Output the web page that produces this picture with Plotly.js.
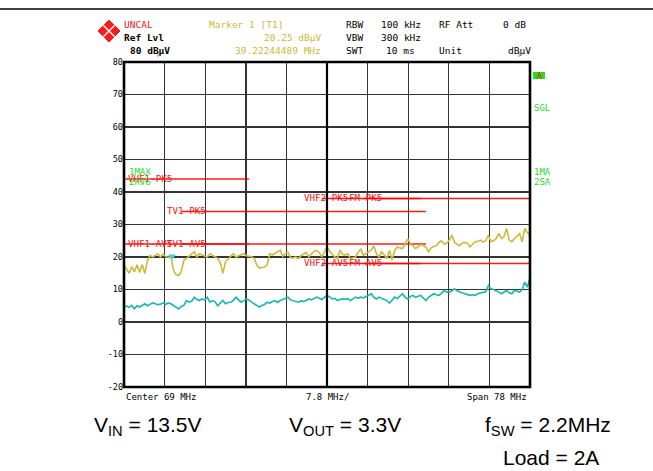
<!DOCTYPE html>
<html><head><meta charset="utf-8">
<script src="https://cdn.plot.ly/plotly-3.0.1.min.js"></script>
<style>html,body{margin:0;padding:0;background:#fff;overflow:hidden}</style>
</head><body><div id="chart" style="width:653px;height:471px"></div>
<script>
// ---- data ----
const freqMHz = [30,30.5,31,31.5,32,32.5,33,33.5,34,34.5,35,35.5,36,36.5,37,37.5,38,38.5,39,39.5,
40,40.5,41,41.5,42,42.5,43,43.5,44,44.5,45,45.5,46,46.5,47,47.5,48,48.5,49,49.5,
50,50.5,51,51.5,52,52.5,53,53.5,54,54.5,55,55.5,56,56.5,57,57.5,58,58.5,59,59.5,
60,60.5,61,61.5,62,62.5,63,63.5,64,64.5,65,65.5,66,66.5,67,67.5,68,68.5,69,69.5,
70,70.5,71,71.5,72,72.5,73,73.5,74,74.5,75,75.5,76,76.5,77,77.5,78,78.5,79,79.5,
80,80.5,81,81.5,82,82.5,83,83.5,84,84.5,85,85.5,86,86.5,87,87.5,88,88.5,89,89.5,
90,90.5,91,91.5,92,92.5,93,93.5,94,94.5,95,95.5,96,96.5,97,97.5,98,98.5,99,99.5,
100,100.5,101,101.5,102,102.5,103,103.5,104,104.5,105,105.5,106,106.5,107,107.5,108];
const maxPeak = [17.6,16.4,15.0,17.0,15.4,17.6,15.2,17.7,14.9,18.8,20.5,20.0,20.6,21.0,20.0,20.8,20.2,19.8,20.3,15.9,
14.6,14.3,15.5,19.0,19.6,20.3,20.8,21.6,20.0,21.0,20.6,20.2,20.0,21.0,20.4,20.0,19.6,18.2,15.0,18.6,
19.4,20.2,21.0,20.0,20.4,20.6,21.0,20.4,20.3,20.1,19.6,17.5,16.6,16.8,16.9,17.6,21.0,20.6,21.2,21.6,
22.1,20.2,21.0,21.4,19.8,19.7,20.0,19.5,20.4,21.0,21.4,20.0,20.8,21.8,22.0,21.4,20.0,21.8,23.1,21.8,
20.8,20.0,19.6,22.1,20.8,20.6,21.0,19.5,19.8,20.0,21.6,22.4,20.5,21.0,21.5,22.2,23.4,21.0,20.0,21.6,
20.6,19.5,22.0,19.0,22.0,23.1,22.8,22.6,24.0,25.6,24.2,23.4,22.6,23.1,23.8,23.6,23.0,21.6,22.8,23.2,
23.5,24.4,25.0,24.0,24.2,25.2,26.7,24.4,24.0,23.5,24.3,24.5,24.2,23.1,24.0,24.7,24.8,25.2,24.6,25.0,
26.7,24.7,25.0,25.7,27.2,25.7,26.2,28.8,25.2,24.7,25.7,26.4,27.2,24.7,28.8,27.5,26.7];
const average = [4.6,4.9,4.5,5.1,4.1,5.0,4.6,5.2,5.6,5.0,5.4,5.9,5.6,5.3,5.5,5.9,5.4,5.9,5.6,5.1,
4.6,4.0,4.8,5.1,6.6,6.1,6.4,7.6,6.9,6.6,7.1,6.8,7.6,6.1,6.6,6.2,5.0,5.8,6.6,5.6,
6.0,6.1,6.6,7.6,6.8,6.1,6.5,7.1,6.8,6.1,5.6,5.1,4.6,5.1,5.4,6.1,5.8,6.3,6.6,6.0,
6.6,6.9,7.3,7.6,6.8,6.6,6.4,6.1,6.5,6.3,6.6,7.1,6.8,7.2,7.65,7.3,6.9,7.6,8.2,7.7,
7.1,7.3,6.6,6.9,7.1,7.0,7.2,6.6,7.2,7.65,7.3,7.65,7.4,7.9,8.2,8.7,7.6,7.1,7.65,7.3,
7.0,6.6,5.8,6.6,7.65,7.2,8.0,8.7,7.6,7.1,7.8,8.2,7.6,7.8,8.2,7.4,6.6,7.6,8.2,8.7,
8.4,8.2,8.8,9.7,9.2,9.2,9.6,10.2,9.6,9.2,8.9,8.7,8.5,8.2,8.4,8.2,8.8,9.0,9.2,9.3,
11.2,10.2,10.0,9.7,9.2,8.7,9.3,9.7,9.0,8.7,9.7,9.4,9.2,10.0,12.3,10.7,13.8];
const limitNames = ["VHF1-PK5","TV1-PK5","VHF2-PK5","FM-PK5","VHF1-AV5","TV1-AV5","VHF2-AV5","FM-AV5"];
const limitStart = [30,41,68,76,30,41,68,76];
const limitStop  = [54,88,87,108,54,88,87,108];
const limitLevel = [44,34,38,38,24,24,18,18];
const markerFreq = 39.22244489;
const markerLevel = 20.25;
const yTickVals = [80,70,60,50,40,30,20,10,0,-10,-20];
const yTickText = ["80","70","60","50","40","30","20","10","0","-10","-20"];

// ---- layout helpers (pixel -> paper) ----
const W=653,H=471,ML=124,MR=123,MT=62,MB=84;
const PW=W-ML-MR, PH=H-MT-MB;
const px = x => (x-ML)/PW;
const py = y => (H-MB-y)/PH;
const MONO = "DejaVu Sans Mono";
const YEL = "#cdb93a", CYA = "#17b5b8", RED = "#ff1010", GRN = "#1fe01f";

const traces = [];
for (let i=0;i<limitNames.length;i++){
  traces.push({x:[limitStart[i],limitStop[i]], y:[limitLevel[i],limitLevel[i]], type:"scatter", mode:"lines",
    line:{color:"rgba(255,0,0,0.9)", width:1.3}, hoverinfo:"skip", showlegend:false, name:limitNames[i]});
}
traces.push({x:freqMHz, y:maxPeak, type:"scatter", mode:"lines", line:{color:YEL, width:1.6}, name:"1MAX", showlegend:false});
traces.push({x:freqMHz, y:average, type:"scatter", mode:"lines", line:{color:CYA, width:1.6}, name:"2AVG", showlegend:false});
traces.push({x:[markerFreq], y:[markerLevel], type:"scatter", mode:"markers",
  marker:{symbol:"triangle-down", size:7, color:"#38d4f0"}, showlegend:false, name:"M1"});

const labelX = [30.6,38.0,64.4,73.1,30.6,38.0,64.4,73.1];
const ann = [];
for (let i=0;i<limitNames.length;i++){
  ann.push({x:labelX[i], y:limitLevel[i], xref:"x", yref:"y", text:limitNames[i], showarrow:false,
    xanchor:"left", yanchor:"middle", yshift:1, font:{family:MONO, size:9.2, color:RED}, borderpad:0});
}
function t(x,y,text,color,anchor,size,fam){
  ann.push({x:px(x), y:py(y), xref:"paper", yref:"paper", text:text, showarrow:false,
    xanchor:anchor||"left", yanchor:"middle", borderpad:0,
    font:{family:fam||MONO, size:size||9.5, color:color||"#000"}});
}
t(123,24,"UNCAL",RED);
t(123,37,"<b>Ref Lvl</b>","#000");
t(129,50,"<b>80 dBµV</b>","#000");
t(208,24,"Marker 1 [T1]",YEL);
t(322,37,"20.25 dBµV",YEL,"right");
t(322,50,"39.22244489 MHz",YEL,"right");
t(345,24,"RBW"); t(380,24,"100 kHz"); t(438,24,"RF Att"); t(502,24,"0 dB");
t(345,37,"VBW"); t(380,37,"300 kHz");
t(345,50,"SWT"); t(385,50,"10 ms"); t(438,50,"Unit"); t(507,50,"dBµV");
t(128,172,"1MAX",GRN,"left",9);
t(128,182,"2AVG",GRN,"left",9);
t(533,108,"SGL",GRN,"left",9);
t(533,172,"1MA",GRN,"left",9);
t(533,182,"2SA",GRN,"left",9);
t(539,75.5,"A",RED,"center",8.5);
t(125,397,"Center 69 MHz","#000","left",9);
t(305,397,"7.8 MHz/","#000","left",9);
t(528,397,"Span 78 MHz","#000","right",9);
const SANS="Liberation Sans, Arial, sans-serif";
t(148,426,"V<sub>IN</sub> = 13.5V","#000","center",21,SANS);
t(345,426,"V<sub>OUT</sub> = 3.3V","#000","center",21,SANS);
t(548,426,"f<sub>SW</sub> = 2.2MHz","#000","center",21,SANS);
t(551,457,"Load = 2A","#000","center",21,SANS);

// logo diamond
const cx=px(109), cy=py(31), dx=11/PW, dy=11/PH;
const shapes = [
  {type:"line", xref:"paper", yref:"paper", x0:px(0), x1:px(653), y0:py(9), y1:py(9), line:{color:"#000", width:1.5}},
  {type:"line", xref:"paper", yref:"paper", x0:px(158), x1:px(158), y0:py(52), y1:py(57), line:{color:"#888", width:1}},
  {type:"line", xref:"paper", yref:"paper", x0:px(519), x1:px(519), y0:py(52), y1:py(57), line:{color:"#888", width:1}},
  {type:"path", xref:"paper", yref:"paper",
   path:`M ${cx-dx} ${cy} L ${cx} ${cy+dy} L ${cx+dx} ${cy} L ${cx} ${cy-dy} Z`,
   fillcolor:"#ff1a1a", line:{color:"#ff1a1a", width:1}},
  {type:"line", xref:"paper", yref:"paper", x0:cx-dx/2, y0:cy+dy/2, x1:cx+dx/2, y1:cy-dy/2, line:{color:"#fff", width:1.5}},
  {type:"line", xref:"paper", yref:"paper", x0:cx-dx/2, y0:cy-dy/2, x1:cx+dx/2, y1:cy+dy/2, line:{color:"#fff", width:1.5}},
  {type:"rect", xref:"paper", yref:"paper", x0:px(533), x1:px(545), y0:py(79), y1:py(72), fillcolor:GRN, line:{width:0}},
  {type:"line", xref:"x", yref:"paper", x0:69, x1:69, y0:0, y1:1, line:{color:"#000", width:2.2}},
  {type:"rect", xref:"paper", yref:"paper", x0:0, x1:1, y0:0, y1:1, line:{color:"#000", width:2.6}}
];

const layout = {
  width:W, height:H, autosize:false,
  margin:{l:ML, r:MR, t:MT, b:MB, pad:0},
  paper_bgcolor:"#fff", plot_bgcolor:"#fff", showlegend:false,
  xaxis:{range:[30,108], dtick:7.8, tick0:30, showgrid:true, gridcolor:"#333", gridwidth:1.4,
    showticklabels:false, ticks:"", zeroline:false, showline:false, fixedrange:true},
  yaxis:{range:[-20,80], tickvals:yTickVals, ticktext:yTickText, showgrid:true, gridcolor:"#333", gridwidth:1.4,
    ticks:"", ticklen:0, zeroline:false, showline:false, tickfont:{family:MONO, size:8.5, color:"#000"}, fixedrange:true},
  annotations:ann, shapes:shapes
};
Plotly.newPlot("chart", traces, layout, {staticPlot:true, displayModeBar:false});
</script></body></html>
